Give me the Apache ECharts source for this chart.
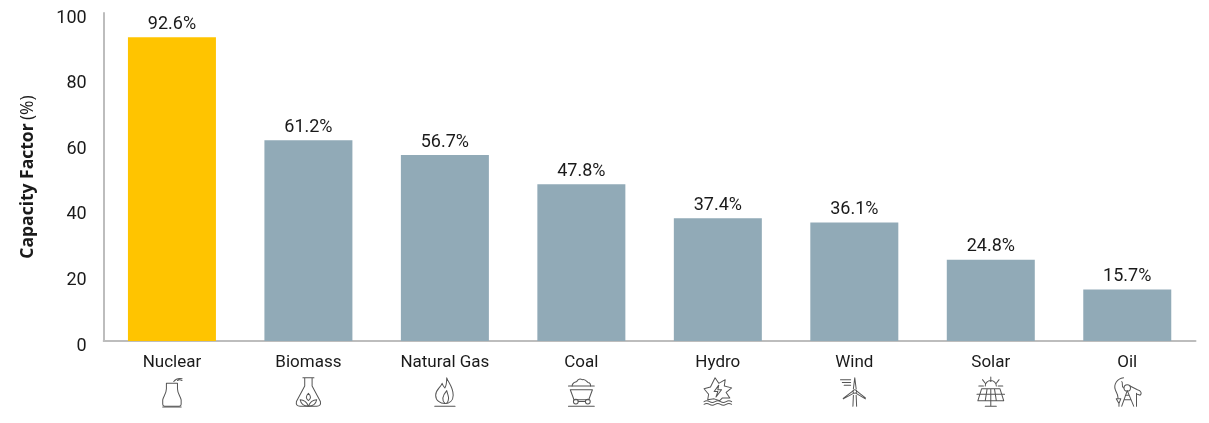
<!DOCTYPE html>
<html><head><meta charset="utf-8">
<style>html,body{margin:0;padding:0;background:#fff}#c{width:1209px;height:423px}</style>
<script src="https://cdn.jsdelivr.net/npm/echarts@6/dist/echarts.min.js"></script>
</head><body><div id="c"></div>
<script>
const categories=['Nuclear','Biomass','Natural Gas','Coal','Hydro','Wind','Solar','Oil'];
const values=[92.6,61.2,56.7,47.8,37.4,36.1,24.8,15.7];
const yTicks=[0,20,40,60,80,100];
const FONT='Roboto,"Open Sans",sans-serif';
const iconBodies=[
 '<path d="M10 8H22V14C22 19 25 22 26 26V31Q26 33 24 33H8Q6 33 6 31V26C7 22 10 19 10 14Z"/><path d="M18 6Q21 2 27 3M22 5Q24 3 27 5"/><path d="M6 34H26"/>',
 '<path d="M10 2H22M12 2V11L3 28Q2 33 7 33H25Q30 33 29 28L20 11V2"/><path d="M16 19C13 22 13 25 16 27C19 25 19 22 16 19ZM16 33C14 28 10 26 7 26C8 31 12 33 16 33ZM16 33C18 28 22 26 25 26C24 31 20 33 16 33Z"/>',
 '<path d="M18 2C20 8 25 12 25 21C25 27 21 30 16 30C11 30 6 27 6 21C6 15 11 13 13 8C14 11 15 12 16 13C18 10 18 6 18 2Z"/><path d="M16 30C12 26 13 22 18 16C19 21 22 24 18 30"/><path d="M5 33H27"/>',
 '<path d="M2 11H30M4 15H28L24 26H8Z"/><path d="M6 11C6 7 9 7 11 6C12 3 15 3 17 4C20 3 22 6 23 7C25 7 26 9 26 11"/><circle cx="10" cy="28" r="2.6"/><circle cx="23" cy="28" r="2.6"/><path d="M12.6 28H20.4M2 33H30"/>',
 '<path d="M13 2L17 8L24 4L23 11L31 13L25 18L29 24L21 24L18 27L12 25L5 26L6 20L1 14L8 12Z"/><path d="M17 10L12 17H16L14 23L20 15H16Z"/><path d="M1 28Q4 26 7 28T13 28T19 28T25 28T31 28M1 31Q4 29 7 31T13 31T19 31T25 31T31 31"/>',
 '<path d="M15 14L16.5 2L18 14M15 19L4 25M18 19L28 25M15 16L4 24.5M18 16L28 24"/><circle cx="16.5" cy="17" r="2"/><path d="M15 21L14.5 33M18 21L18.5 33M1 4H12M3 7H12M5 10H12"/>',
 '<path d="M16 1V6M7 4L10 8M25 4L22 8M3 11H8M24 11H29M10 11A6 6 0 0 1 22 11"/><path d="M6 14H26L30 27H2ZM1 20H31M12 14L10 27M20 14L22 27M16 14V33M10 33H22"/>',
 '<path d="M12 2C5 3 1 9 3 15C4 18 6 20 6 24M10 6C12 8 9 11 12 13"/><path d="M4 25H9L7 30ZM7 30V33"/><circle cx="16" cy="13" r="3.5"/><path d="M16 16L10 33M16 16L23 33M12.5 26H19.5M14 21H18"/><path d="M19 11L27 15C31 16 32 19 30 21L27 20M26 19V33"/>'
];
const svgIcon=b=>'data:image/svg+xml;charset=utf-8,'+encodeURIComponent('<svg xmlns="http://www.w3.org/2000/svg" width="32" height="35" viewBox="0 0 32 35"><g fill="none" stroke="#555" stroke-width="1.1" stroke-linejoin="round" stroke-linecap="round">'+b+'</g></svg>');
const rich={name:{fontFamily:FONT,fontSize:17,color:'#1a1a1a',height:22,lineHeight:22,align:'center',padding:[0,0,4,0]}};
iconBodies.forEach((b,i)=>{rich['ic'+i]={height:32,width:29.5,align:'center',backgroundColor:{image:svgIcon(b)}};});
const chart=echarts.init(document.getElementById('c'),null,{renderer:'canvas'});
chart.setOption({
 animation:false,
 backgroundColor:'#fff',
 grid:{left:103.7,right:13.5,top:13,bottom:82,containLabel:false},
 xAxis:{type:'category',data:categories,
  axisLine:{lineStyle:{color:'#bdbdbd',width:2}},axisTick:{show:false},
  axisLabel:{margin:13,interval:0,formatter:(v,i)=>`{name|${v}}\n{ic${i}|}`,rich}},
 yAxis:{type:'value',min:0,max:100,interval:20,
  name:'{b|Capacity Factor} {r|(%)}',nameLocation:'middle',nameRotate:90,nameGap:67,
  nameTextStyle:{rich:{b:{fontFamily:'"Open Sans",sans-serif',fontWeight:'bold',fontSize:17.5,color:'#1a1a1a'},r:{fontFamily:'"Open Sans",sans-serif',fontSize:17.5,color:'#1a1a1a'}}},
  splitLine:{show:false},axisTick:{show:false},
  axisLine:{show:true,lineStyle:{color:'#bdbdbd',width:2}},
  axisLabel:{margin:17,fontFamily:FONT,fontSize:18,color:'#1a1a1a',verticalAlign:'top',lineHeight:10,
   formatter:v=>yTicks.includes(v)?String(v):''}},
 series:[{type:'bar',barWidth:88,
  data:values.map((v,i)=>({value:v,itemStyle:{color:i===0?'#FFC400':'#91AAB7'}})),
  label:{show:true,position:'top',distance:4,fontFamily:FONT,fontSize:18,color:'#1a1a1a',formatter:p=>p.value.toFixed(1)+'%'}}]
});
</script></body></html>
